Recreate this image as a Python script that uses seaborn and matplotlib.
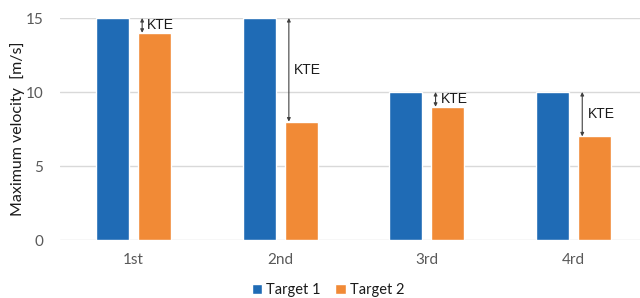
import matplotlib
matplotlib.use("Agg")
import matplotlib.pyplot as plt
import seaborn as sns
import pandas as pd

categories = ["1st", "2nd", "3rd", "4rd"]
target1 = [15, 15, 10, 10]
target2 = [14, 8, 9, 7]
series_names = ["Target 1", "Target 2"]
yticks = [0, 5, 10, 15]

df = pd.DataFrame({
    "cat": categories * 2,
    "val": target1 + target2,
    "series": [series_names[0]] * 4 + [series_names[1]] * 4,
})

sns.set_theme(style="white")
plt.rcParams["font.family"] = ["Lato", "DejaVu Sans"]

fig = plt.figure(figsize=(6.4, 2.98), dpi=100)
ax = fig.add_axes([60 / 640, 58 / 298, 580 / 640, 222 / 298])

palette = {"Target 1": "#1f6bb5", "Target 2": "#f18a36"}
sns.barplot(data=df, x="cat", y="val", hue="series", palette=palette,
            width=0.573, gap=0.215, ax=ax, legend=True, saturation=1)

ax.set_xlim(-0.5, -0.5 + 580 / 146.7)
ax.set_ylim(0, 15)
ax.set_yticks(yticks)
ax.yaxis.grid(True, color="#d9d9d9", lw=1)
ax.set_axisbelow(True)
for s in ax.spines.values():
    s.set_visible(False)
ax.tick_params(axis="both", length=0, colors="#595959", labelsize=11)
ax.tick_params(axis="x", pad=9)
ax.tick_params(axis="y", pad=12)
ax.set_xlabel("")
ax.set_ylabel("Maximum velocity  [m/s]", fontsize=11.5, color="#1a1a1a")
ax.yaxis.set_label_coords(-35 / 580, 0.5)

# KTE arrows
for i, (a, b) in enumerate(zip(target1, target2)):
    x = i + 0.06
    ax.annotate("", xy=(x, b), xytext=(x, a),
                arrowprops=dict(arrowstyle="<|-|>", color="#404040", lw=0.8,
                                mutation_scale=5, shrinkA=0, shrinkB=0))
    ax.text(x + 0.035, (a + b) / 2, "KTE", fontsize=10, va="center", ha="left",
            color="#1a1a1a", family=["Liberation Sans", "DejaVu Sans"])

handles, labels = ax.get_legend_handles_labels()
ax.get_legend().remove()
fig.legend(handles, labels, loc="center", bbox_to_anchor=(328 / 640, 1 - 290 / 298),
           ncol=2, frameon=False, fontsize=10.5, handlelength=0.7, handleheight=0.7,
           handletextpad=0.3, columnspacing=1.0, labelcolor="#1a1a1a")

fig.savefig("out.png", dpi=100)
